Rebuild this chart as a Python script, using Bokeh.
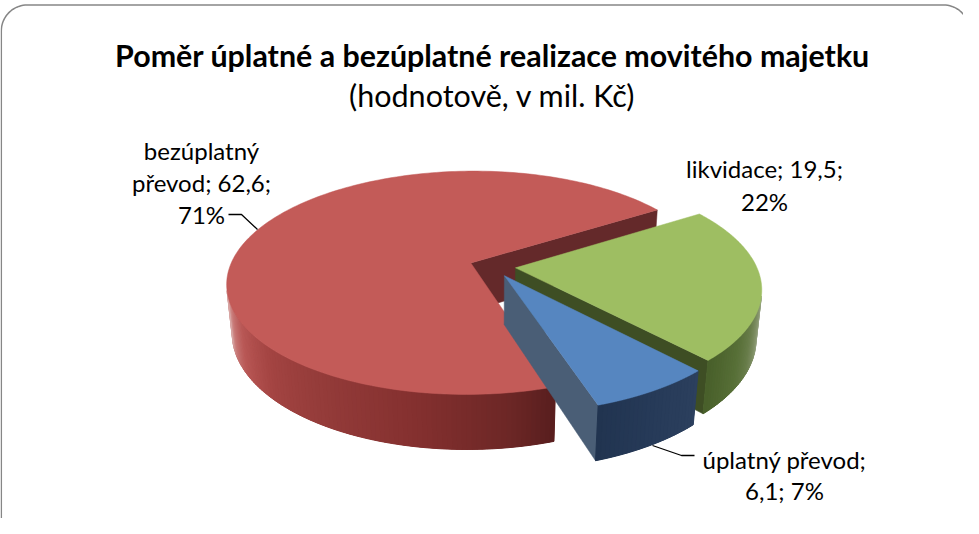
import numpy as np
from bokeh.plotting import figure
from bokeh.models import Range1d
from bokeh.core.properties import value
from bokeh.embed import file_html
from bokeh.resources import INLINE

# ---------------- data ----------------
categories = ["bezúplatný převod", "likvidace", "úplatný převod"]
values = [62.6, 19.5, 6.1]
title_text = "Poměr úplatné a bezúplatné realizace movitého majetku"
subtitle_text = "(hodnotově, v mil. Kč)"

# ---------------- layout / style ----------------
label_words_per_line = [[1, 2, 1], [2, 1], [2, 2]]
label_anchor = [(209, 158, 32), (772, 176, 33), (792, 467, 31)]   # centre x, first baseline, line gap
leaders = [([236, 249, 265], [222, 222, 237]), ([660, 689, 702], [453, 463, 463])]

top_colors = ["#C35B58", "#9EBE62", "#5686C0"]
wall_colors = ["#64292A", "#3E4E24", "#4A5E76"]
side_base = ["#7A2B2A", "#54702F", "#26395A"]
side_stops = [
    [(162, (88, 30, 30)), (172, (109, 39, 38)), (190, (132, 48, 47)), (212, (149, 60, 58)),
     (227, (164, 68, 66)), (240, (185, 88, 86)), (248, (200, 120, 118)), (256, (218, 170, 168))],
    [(104, (165, 175, 150)), (110, (135, 150, 110)), (118, (105, 125, 75)), (125, (88, 112, 56)),
     (137.2, (72, 95, 42))],
    [(137, (44, 64, 94)), (150, (38, 58, 88)), (162, (33, 52, 80))],
]

FONT = value("Lato")
W, H = 963, 518
X0, Y0 = 8, 8

# 3D tilted pie projection (perspective)
CX, CY, S = 500.0, 274.0, 241.0
PHI = np.radians(27.0)
LCAM = 5.0
DEPTH = 0.23
EXPLODE = 0.096
START = 162.0
SP, CP = np.sin(PHI), np.cos(PHI)


def project(u, v, h):
    u = np.asarray(u, dtype=float)
    v = np.asarray(v, dtype=float)
    yc = h * CP - v * SP
    dep = LCAM - (h * SP + v * CP)
    return CX + S * LCAM * u / dep, CY - S * LCAM * yc / dep


def rim(th, du, dv, h):
    t = np.radians(th)
    return project(du + np.sin(t), dv - np.cos(t), h)


def interp_color(stops, th):
    ths = [s[0] for s in stops]
    th = min(max(th, ths[0]), ths[-1])
    for k in range(len(stops) - 1):
        if ths[k] <= th <= ths[k + 1]:
            f = (th - ths[k]) / (ths[k + 1] - ths[k])
            c = [int(round(stops[k][1][j] + f * (stops[k + 1][1][j] - stops[k][1][j]))) for j in range(3)]
            return "#%02x%02x%02x" % tuple(c)
    return "#%02x%02x%02x" % stops[-1][1]


def side_visible(th, du, dv):
    t = np.radians(th)
    pu, pv = du + np.sin(t), dv - np.cos(t)
    return np.sin(t) * (0 - pu) + (-np.cos(t)) * (LCAM * CP - pv) > 0


p = figure(width=W, height=H, x_range=Range1d(X0, X0 + W), y_range=Range1d(Y0 + H, Y0),
           output_backend="svg", toolbar_location=None, x_axis_location=None,
           y_axis_location=None, min_border=0)
p.grid.visible = False
p.outline_line_color = None
p.background_fill_color = "white"
p.border_fill_color = "white"

# chart border (left and top edges + corners; right/bottom lie outside the picture)
bl, bt, br, rad = 8.8, 12.5, 977.0, 26.0
t1 = np.radians(np.linspace(180, 270, 20))
t2 = np.radians(np.linspace(270, 360, 20))
bx = [bl, bl] + list(bl + rad + rad * np.cos(t1)) + list(br - rad + rad * np.cos(t2)) + [br]
by = [700, bt + rad] + list(bt + rad + rad * np.sin(t1)) + list(bt + rad + rad * np.sin(t2)) + [700]
p.line(bx, by, line_color="#868686", line_width=1.5)

# slices
total = sum(values)
spans = [360.0 * v / total for v in values]
a = START
for i, span in enumerate(spans):
    a0, a1 = a, a + span
    a = a1
    mid = np.radians((a0 + a1) / 2)
    du, dv = EXPLODE * np.sin(mid), -EXPLODE * np.cos(mid)

    # radial walls facing the viewer
    for ang, nang in ((a0, a0 - 90), (a1, a1 + 90)):
        nu, nv = np.sin(np.radians(nang)), -np.cos(np.radians(nang))
        if nu * (0 - du) + nv * (LCAM * CP - dv) > 0:
            vx0, vy0 = project(du, dv, 0.0)
            vx1, vy1 = project(du, dv, -DEPTH)
            rx0, ry0 = rim(ang, du, dv, 0.0)
            rx1, ry1 = rim(ang, du, dv, -DEPTH)
            p.patch([float(vx0), float(rx0), float(rx1), float(vx1)],
                    [float(vy0), float(ry0), float(ry1), float(vy1)],
                    fill_color=wall_colors[i], line_color=wall_colors[i], line_width=0.5)

    # outer side: base band + shaded strips
    n = int(np.ceil(span / 1.0))
    ths = np.linspace(a0, a1, n + 1)
    vis = [t for t in np.linspace(a0, a1, 400) if side_visible(t, du, dv)]
    if vis:
        tv = np.array(vis)
        tx, ty = rim(tv, du, dv, 0.0)
        bx_, by_ = rim(tv[::-1], du, dv, -DEPTH)
        p.patch(list(tx) + list(bx_), list(ty) + list(by_),
                fill_color=side_base[i], line_color=None)
    xs, ys, cols = [], [], []
    for k in range(n):
        ta, tb = ths[k], ths[k + 1]
        if not side_visible((ta + tb) / 2, du, dv):
            continue
        x_a, y_a = rim(ta, du, dv, 0.0)
        x_b, y_b = rim(tb, du, dv, 0.0)
        x_c, y_c = rim(tb, du, dv, -DEPTH)
        x_d, y_d = rim(ta, du, dv, -DEPTH)
        xs.append([float(x_a), float(x_b), float(x_c), float(x_d)])
        ys.append([float(y_a), float(y_b), float(y_c), float(y_d)])
        cols.append(interp_color(side_stops[i], ((ta + tb) / 2) % 360))
    if xs:
        p.patches(xs, ys, fill_color=cols, line_color=cols, line_width=1.0)

    # top face
    tt = np.linspace(a0, a1, 200)
    rx, ry = rim(tt, du, dv, 0.0)
    vx, vy = project(du, dv, 0.0)
    p.patch([float(vx)] + list(rx), [float(vy)] + list(ry),
            fill_color=top_colors[i], line_color=top_colors[i], line_width=0.5)


def fmt(v):
    return f"{v:.1f}".replace(".", ",")

for i, (cat, v) in enumerate(zip(categories, values)):
    pct = round(100 * v / total)
    words = f"{cat}; {fmt(v)}; {pct}%".split(" ")
    lines, k = [], 0
    for cnt in label_words_per_line[i]:
        lines.append(" ".join(words[k:k + cnt])); k += cnt
    cx_, y_first, gap = label_anchor[i]
    p.text(x=[cx_] * len(lines), y=[y_first + gap * j for j in range(len(lines))], text=lines,
           text_font=FONT, text_font_size="24px", text_color="#000000",
           text_align="center", text_baseline="alphabetic")

for lx, ly in leaders:
    p.line(lx, ly, line_color="#000000", line_width=1.3)

p.text(x=[500], y=[62], text=[title_text], text_font=FONT, text_font_size="30.4px",
       text_font_style="bold", text_color="#000000", text_align="center", text_baseline="alphabetic")
p.text(x=[500], y=[102], text=[subtitle_text], text_font=FONT, text_font_size="30.5px",
       text_color="#000000", text_align="center", text_baseline="alphabetic")

open("out.html", "w").write(file_html(p, INLINE))
